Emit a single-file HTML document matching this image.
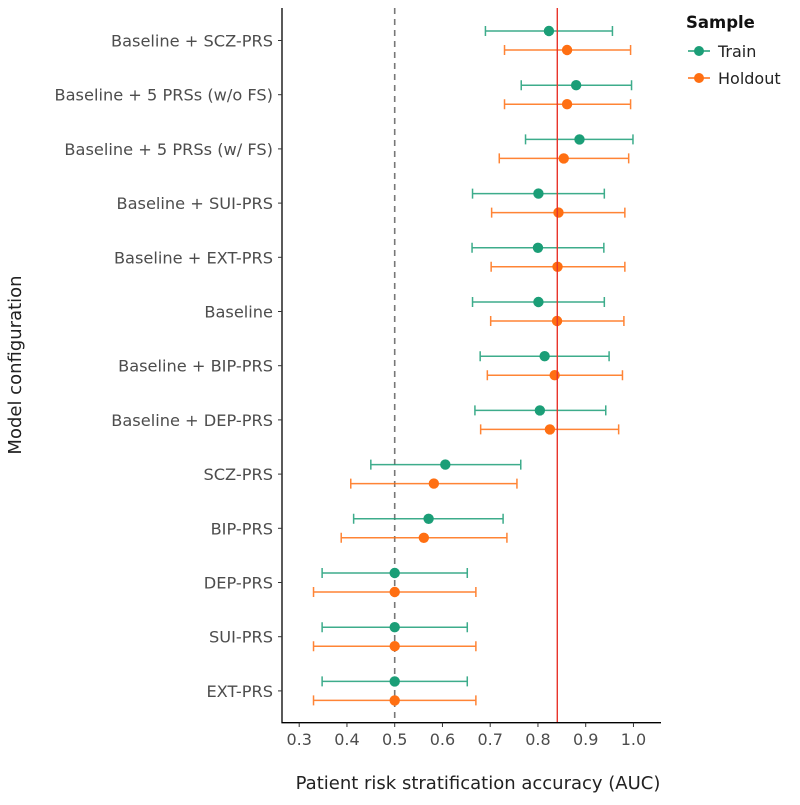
<!DOCTYPE html>
<html><head><meta charset="utf-8"><style>
body{margin:0;background:#fff;font-family:"Liberation Sans","DejaVu Sans",sans-serif}
svg text{font-family:"DejaVu Sans","Liberation Sans",sans-serif}
</style></head><body>
<svg id="chart" width="800" height="800" xmlns="http://www.w3.org/2000/svg"></svg>
<script>
const categories=["Baseline + SCZ-PRS","Baseline + 5 PRSs (w/o FS)","Baseline + 5 PRSs (w/ FS)","Baseline + SUI-PRS","Baseline + EXT-PRS","Baseline","Baseline + BIP-PRS","Baseline + DEP-PRS","SCZ-PRS","BIP-PRS","DEP-PRS","SUI-PRS","EXT-PRS"];
const trainAUC=[0.823,0.880,0.887,0.801,0.800,0.801,0.814,0.804,0.606,0.571,0.5,0.5,0.5];
const trainLo=[0.690,0.765,0.774,0.663,0.662,0.663,0.679,0.668,0.450,0.414,0.348,0.348,0.348];
const trainHi=[0.956,0.996,0.999,0.939,0.938,0.939,0.949,0.942,0.764,0.727,0.652,0.652,0.652];
const holdAUC=[0.861,0.861,0.854,0.843,0.841,0.840,0.835,0.825,0.582,0.561,0.5,0.5,0.5];
const holdLo=[0.730,0.730,0.719,0.703,0.702,0.701,0.694,0.680,0.408,0.388,0.330,0.330,0.330];
const holdHi=[0.994,0.994,0.990,0.982,0.982,0.980,0.977,0.969,0.756,0.735,0.670,0.670,0.670];
const xTicks=[0.3,0.4,0.5,0.6,0.7,0.8,0.9,1.0];
const refChance=0.5;
const refHoldout=0.8405;

const svg=document.getElementById('chart');
const NS='http://www.w3.org/2000/svg';
const X=v=>394.7+(v-0.5)*477.5;
const Y=i=>40.5+i*54.2;
function mk(tag,attrs,parent){const e=document.createElementNS(NS,tag);for(const k in attrs)e.setAttribute(k,attrs[k]);(parent||svg).appendChild(e);return e;}
const GREEN='#1b9e77',ORANGE='#ff6f12';

let l=mk('line',{x1:X(refChance),x2:X(refChance),y1:8,y2:722,stroke:'#777','stroke-width':1.6,'stroke-dasharray':'6,5'});



function series(lo,pt,hi,off,color,name){
  const g=mk('g',{});
  
  
  categories.forEach((c,i)=>{
    const y=Y(i)+off;
    const eb=mk('path',{d:`M${X(lo[i])},${y}H${X(hi[i])}M${X(lo[i])},${y-5}V${y+5}M${X(hi[i])},${y-5}V${y+5}`,stroke:color,'stroke-width':1.5,'stroke-opacity':0.85,fill:'none'},g);
    
    
    const p=mk('circle',{cx:X(pt[i]),cy:y,r:5.2,fill:color},g);
    
    
  });
}
series(trainLo,trainAUC,trainHi,-9.5,GREEN,'train');
series(holdLo,holdAUC,holdHi,9.5,ORANGE,'holdout');

l=mk('line',{x1:X(refHoldout),x2:X(refHoldout),y1:8,y2:722,stroke:'#e8332a','stroke-width':1.4});



l=mk('path',{d:'M282,8V722.7H661',stroke:'#000','stroke-width':1.3,fill:'none'});


categories.forEach((c,i)=>{
  mk('line',{x1:278,x2:282,y1:Y(i),y2:Y(i),stroke:'#333','stroke-width':1});
  const t=mk('text',{x:273,y:Y(i)+6,'text-anchor':'end','font-size':16.2,fill:'#4d4d4d'});
  t.textContent=c;
  
  
});
xTicks.forEach(v=>{
  mk('line',{x1:X(v),x2:X(v),y1:722.7,y2:727,stroke:'#333','stroke-width':1});
  const t=mk('text',{x:X(v),y:745,'text-anchor':'middle','font-size':16,fill:'#4d4d4d'});
  t.textContent=v.toFixed(1);
  
  
});
let t=mk('text',{x:478,y:789,'text-anchor':'middle','font-size':18,fill:'#222'});
t.textContent='Patient risk stratification accuracy (AUC)';


t=mk('text',{x:21,y:365,'text-anchor':'middle','font-size':18,fill:'#222',transform:'rotate(-90 21 365)'});
t.textContent='Model configuration';



t=mk('text',{x:686,y:28,'font-size':16.5,'font-weight':'bold',fill:'#111'});
t.textContent='Sample';


[['Train',GREEN,51],['Holdout',ORANGE,78]].forEach(([n,c,y])=>{
  const g=mk('g',{});
  
  
  mk('line',{x1:688,x2:710,y1:y,y2:y,stroke:c,'stroke-width':1.4},g);
  mk('circle',{cx:699,cy:y,r:5,fill:c},g);
  const tt=mk('text',{x:718,y:y+6,'font-size':16,fill:'#222'},g);
  tt.textContent=n;
});
</script>
</body></html>
